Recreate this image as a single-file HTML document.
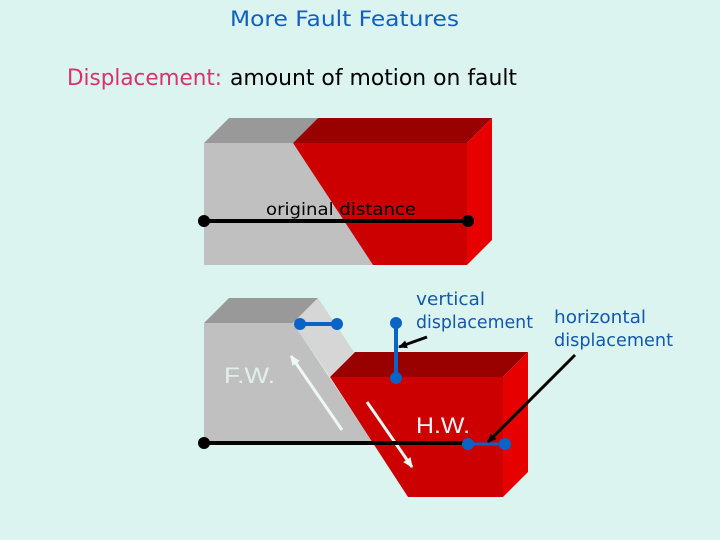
<!DOCTYPE html>
<html><head><meta charset="utf-8"><style>
html,body{margin:0;padding:0;background:#dcf4f0;}
svg{display:block;}
text{font-family:"DejaVu Sans","Liberation Sans",sans-serif;}
</style></head><body>
<svg width="720" height="540" viewBox="0 0 720 540" xmlns="http://www.w3.org/2000/svg">
<defs>
<marker id="ab" markerWidth="10" markerHeight="10" refX="8" refY="5" orient="auto" markerUnits="userSpaceOnUse"><path d="M0,1 L9,5 L0,9 Z" fill="#000"/></marker>
<marker id="aw" markerWidth="12" markerHeight="12" refX="9" refY="6" orient="auto" markerUnits="userSpaceOnUse"><path d="M0,1.5 L10,6 L0,10.5 Z" fill="#eef8f4"/></marker>
</defs>
<rect width="720" height="540" fill="#dcf4f0"/>
<text x="230" y="26" font-size="21" fill="#1060c0" textLength="229" lengthAdjust="spacingAndGlyphs">More Fault Features</text>
<text x="67" y="85" font-size="22" fill="#d6336b" textLength="155" lengthAdjust="spacingAndGlyphs">Displacement:</text>
<text x="230" y="85" font-size="22" fill="#000" textLength="287" lengthAdjust="spacingAndGlyphs">amount of motion on fault</text>

<!-- top block -->
<polygon points="204,143 229,118 318,118 293,143" fill="#999999"/>
<polygon points="293,143 318,118 492,118 467,143" fill="#990000"/>
<polygon points="204,143 293,143 373,265 204,265" fill="#c0c0c0"/>
<polygon points="293,143 467,143 467,265 373,265" fill="#cc0000"/>
<polygon points="467,143 492,118 492,240 467,265" fill="#e60000"/>
<line x1="204" y1="221" x2="468" y2="221" stroke="#000" stroke-width="4"/>
<circle cx="204" cy="221" r="6" fill="#000"/>
<circle cx="468" cy="221" r="6" fill="#000"/>
<text x="266" y="215" font-size="17" fill="#000" textLength="150" lengthAdjust="spacingAndGlyphs">original distance</text>

<!-- bottom block -->
<polygon points="204,323 229,298 318,298 293,323" fill="#999999"/>
<polygon points="293,323 318,298 354,352 330,377" fill="#d6d6d6"/>
<polygon points="204,323 293,323 373,443 204,443" fill="#c0c0c0"/>
<polygon points="330,377 355,352 528,352 503,377" fill="#990000"/>
<polygon points="330,377 503,377 503,497 408,497" fill="#cc0000"/>
<polygon points="503,377 528,352 528,472 503,497" fill="#e60000"/>

<line x1="342" y1="430" x2="291" y2="356" stroke="#eef8f4" stroke-width="3" marker-end="url(#aw)"/>
<line x1="367" y1="402" x2="412" y2="467" stroke="#eef8f4" stroke-width="3" marker-end="url(#aw)"/>

<text x="224" y="383" font-size="22" fill="#e0f0ec" textLength="51" lengthAdjust="spacingAndGlyphs" style="font-family:'Liberation Sans',sans-serif">F.W.</text>
<text x="416" y="433" font-size="22" fill="#f4f4f4" textLength="54" lengthAdjust="spacingAndGlyphs" style="font-family:'Liberation Sans',sans-serif">H.W.</text>

<line x1="204" y1="443" x2="468" y2="443" stroke="#000" stroke-width="4"/>
<circle cx="204" cy="443" r="6" fill="#000"/>
<line x1="468" y1="444" x2="505" y2="444" stroke="#0a64c8" stroke-width="3"/>
<circle cx="468" cy="444" r="6" fill="#0a64c8"/>
<circle cx="505" cy="444" r="6" fill="#0a64c8"/>

<line x1="300" y1="324" x2="337" y2="324" stroke="#0a64c8" stroke-width="4"/>
<circle cx="300" cy="324" r="6" fill="#0a64c8"/>
<circle cx="337" cy="324" r="6" fill="#0a64c8"/>

<line x1="396" y1="323" x2="396" y2="378" stroke="#0a64c8" stroke-width="4"/>
<circle cx="396" cy="323" r="6" fill="#0a64c8"/>
<circle cx="396" cy="378" r="6" fill="#0a64c8"/>

<line x1="427" y1="337" x2="399" y2="347" stroke="#000" stroke-width="3" marker-end="url(#ab)"/>
<line x1="575" y1="355" x2="488" y2="442" stroke="#000" stroke-width="3" marker-end="url(#ab)"/>

<text x="416" y="305" font-size="18" fill="#1058b0" textLength="69" lengthAdjust="spacingAndGlyphs">vertical</text>
<text x="416" y="328" font-size="18" fill="#1058b0" textLength="117" lengthAdjust="spacingAndGlyphs">displacement</text>
<text x="554" y="323" font-size="18" fill="#1058b0" textLength="92" lengthAdjust="spacingAndGlyphs">horizontal</text>
<text x="554" y="346" font-size="18" fill="#1058b0" textLength="119" lengthAdjust="spacingAndGlyphs">displacement</text>
</svg>
</body></html>
